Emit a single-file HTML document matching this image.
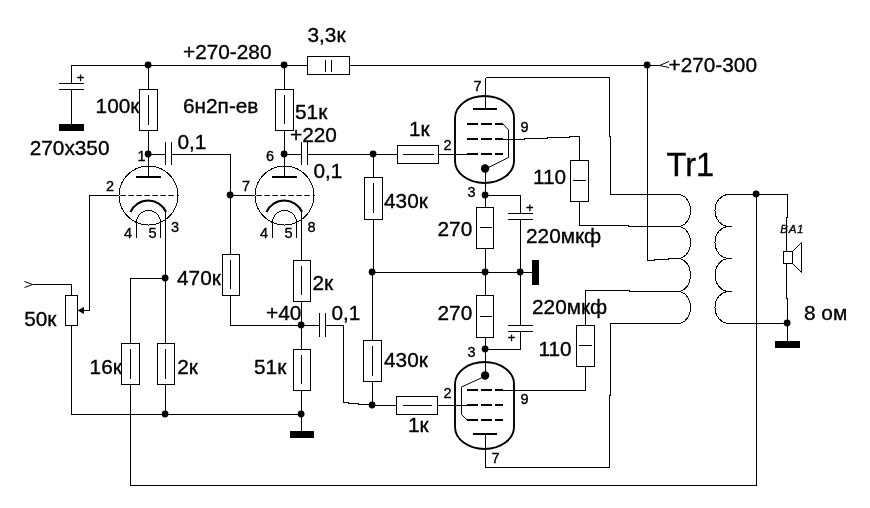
<!DOCTYPE html>
<html><head><meta charset="utf-8"><title>schematic</title>
<style>
html,body{margin:0;padding:0;background:#fff;}
body{width:870px;height:508px;overflow:hidden;}
svg{display:block;will-change:transform;}
svg text{font-family:"Liberation Sans",sans-serif;fill:#000;stroke:#000;stroke-width:0.35px;}
</style></head>
<body>
<svg width="870" height="508" viewBox="0 0 870 508">
<rect x="0" y="0" width="870" height="508" fill="#fff"/>
<g stroke="#000" stroke-width="1" fill="none" shape-rendering="crispEdges" stroke-linecap="butt">
<polyline points="71.5,83 71.5,65.5 307.5,65.5" stroke-width="1" />
<polyline points="349.5,65.5 659,65.5" stroke-width="1" />
<polyline points="59,83.5 84,83.5" stroke-width="1" />
<polyline points="59,89.5 84,89.5" stroke-width="1" />
<polyline points="71.5,89 71.5,124" stroke-width="1" />
<rect x="59" y="124" width="25" height="7" fill="#000" stroke="none"/>
<polyline points="148.5,65 148.5,89" stroke-width="1" />
<rect x="139.5" y="89.5" width="18.0" height="41.0" fill="#fff"/>
<polyline points="148.5,95 148.5,125" stroke-width="1" />
<polyline points="148.5,130 148.5,177" stroke-width="1" />
<polyline points="148,154.5 165,154.5" stroke-width="1" />
<polyline points="165.5,142 165.5,165" stroke-width="1" />
<polyline points="171.5,142 171.5,165" stroke-width="1" />
<polyline points="171,154.5 230.5,154.5 230.5,254" stroke-width="1" />
<polyline points="230,195.5 254.5,195.5" stroke-width="1" />
<circle cx="148.5" cy="195.5" r="29.5" fill="none"/>
<polyline points="136.0,177.0 161.0,177.0" stroke-width="2" />
<polyline points="120.4,195.5 173.7,195.5" stroke-width="1" stroke-dasharray="5.5 2.5" shape-rendering="auto"/>
<path d="M130.5,212.0 A19.5,19.5 0 0 1 166.0,212.0" fill="none" stroke-width="2" shape-rendering="auto"/>
<path d="M136.5,237.5 L136.5,222.5 A12,12 0 0 1 160.5,222.5 L160.5,237.5" fill="none"/>
<circle cx="284.5" cy="195.5" r="29.5" fill="none"/>
<polyline points="272.0,177.0 297.0,177.0" stroke-width="2" />
<polyline points="256.4,195.5 309.7,195.5" stroke-width="1" stroke-dasharray="5.5 2.5" shape-rendering="auto"/>
<path d="M266.5,212.0 A19.5,19.5 0 0 1 302.0,212.0" fill="none" stroke-width="2" shape-rendering="auto"/>
<path d="M272.5,237.5 L272.5,222.5 A12,12 0 0 1 296.5,222.5 L296.5,237.5" fill="none"/>
<polyline points="118.5,195.5 89.5,195.5 89.5,310.5 84,310.5" stroke-width="1" />
<polyline points="165.5,212 165.5,343.5" stroke-width="1" />
<polyline points="165.5,278.5 130.5,278.5 130.5,343.5" stroke-width="1" />
<rect x="121.5" y="343.5" width="18.0" height="41.0" fill="#fff"/>
<polyline points="130.5,349 130.5,378.5" stroke-width="1" />
<rect x="157.5" y="343.5" width="17.0" height="41.0" fill="#fff"/>
<polyline points="165.5,349 165.5,378.5" stroke-width="1" />
<polyline points="165.5,384.5 165.5,414.5" stroke-width="1" />
<polyline points="130.5,384.5 130.5,485.5 756.5,485.5 756.5,194.5" stroke-width="1" />
<polyline points="24.5,281.5 32.5,284.5 24.5,287.5" stroke-width="1" shape-rendering="auto"/>
<polyline points="32.5,284.5 71.5,284.5 71.5,295" stroke-width="1" />
<rect x="65.5" y="295.5" width="12.0" height="30.0" fill="#fff"/>
<polyline points="71.5,325.5 71.5,414.5 301.5,414.5" stroke-width="1" />
<polygon points="77.5,310.5 84,307 84,314" fill="#000" stroke="none" shape-rendering="auto"/>
<polyline points="284.5,65 284.5,89" stroke-width="1" />
<rect x="275.5" y="89.5" width="18.0" height="41.0" fill="#fff"/>
<polyline points="284.5,95 284.5,124" stroke-width="1" />
<polyline points="284.5,130 284.5,177" stroke-width="1" />
<polyline points="284,154.5 301,154.5" stroke-width="1" />
<polyline points="301.5,142 301.5,165" stroke-width="1" />
<polyline points="307.5,142 307.5,165" stroke-width="1" />
<polyline points="307,154.5 397.5,154.5" stroke-width="1" />
<rect x="307.5" y="56.5" width="42.0" height="18.0" fill="#fff"/>
<polyline points="325.5,59.5 325.5,71.5" stroke-width="1" />
<polyline points="331.5,59.5 331.5,71.5" stroke-width="1" />
<polyline points="301.5,212 301.5,260" stroke-width="1" />
<rect x="293.5" y="260.5" width="17.0" height="41.0" fill="#fff"/>
<polyline points="301.5,266 301.5,295" stroke-width="1" />
<polyline points="301.5,301 301.5,349.5" stroke-width="1" />
<rect x="293.5" y="349.5" width="17.0" height="41.0" fill="#fff"/>
<polyline points="301.5,355 301.5,384" stroke-width="1" />
<polyline points="301.5,390 301.5,431" stroke-width="1" />
<rect x="290" y="431" width="24" height="7" fill="#000" stroke="none"/>
<rect x="222.5" y="254.5" width="17.0" height="41.0" fill="#fff"/>
<polyline points="230.5,260 230.5,289" stroke-width="1" />
<polyline points="230.5,295 230.5,325.5 319,325.5" stroke-width="1" />
<polyline points="319.5,313 319.5,337" stroke-width="1" />
<polyline points="325.5,313 325.5,337" stroke-width="1" />
<polyline points="325,325.5 343.5,325.5 343.5,402.5 348,402.5 348,403.5 358,403.5 358,404.5 372,404.5" stroke-width="1" />
<polyline points="373.5,154 373.5,177" stroke-width="1" />
<rect x="364.5" y="177.5" width="18.0" height="42.0" fill="#fff"/>
<polyline points="373.5,183 373.5,213" stroke-width="1" />
<polyline points="373.5,219 373.5,272 372.5,272 372.5,340" stroke-width="1" />
<rect x="363.5" y="340.5" width="18.0" height="41.0" fill="#fff"/>
<polyline points="372.5,346 372.5,376" stroke-width="1" />
<polyline points="372.5,381 372.5,405.5" stroke-width="1" />
<polyline points="372,272.5 532,272.5" stroke-width="1" />
<rect x="532" y="260" width="7" height="24.5" fill="#000" stroke="none"/>
<rect x="397.5" y="145.5" width="41.0" height="18.0" fill="#fff"/>
<polyline points="402.5,154.5 434,154.5" stroke-width="1" />
<polyline points="438.5,154.5 467,154.5" stroke-width="1" />
<polyline points="372,405.5 396.5,405.5" stroke-width="1" />
<rect x="396.5" y="396.5" width="41.0" height="18.0" fill="#fff"/>
<polyline points="402.5,405.5 432,405.5" stroke-width="1" />
<polyline points="437.5,405.5 467,405.5" stroke-width="1" />
<path d="M455,118 A29.5,22 0 0 1 514,118 L514,161 A29.5,22 0 0 1 455,161 Z" fill="none" stroke-width="1.9" shape-rendering="auto"/>
<path d="M455,384 A29.5,22 0 0 1 514,384 L514,427 A29.5,22 0 0 1 455,427 Z" fill="none" stroke-width="1.9" shape-rendering="auto"/>
<polyline points="473,109 497,109" stroke-width="2" />
<polyline points="485.5,77.5 485.5,109" stroke-width="1" />
<polyline points="467,124 503,124" stroke-width="2" stroke-dasharray="11 3"/>
<polyline points="467,139 503,139" stroke-width="2" stroke-dasharray="11 3"/>
<polyline points="467,154 503,154" stroke-width="2" stroke-dasharray="11 3"/>
<polyline points="503,124 508.5,130 508.5,157.5 485.5,169" stroke-width="1" shape-rendering="auto"/>
<polyline points="503,139.5 524.5,139.5 524.5,138.5 547,138.5 547,137.5 569,137.5 569,136.5 579.5,136.5 579.5,160.5" stroke-width="1" />
<polyline points="485.5,169 485.5,207.5" stroke-width="1" />
<rect x="476.5" y="207.5" width="17.0" height="41.0" fill="#fff"/>
<polyline points="480,227.5 492,227.5" stroke-width="1" />
<polyline points="485.5,248 485.5,295.5" stroke-width="1" />
<rect x="476.5" y="295.5" width="17.0" height="42.0" fill="#fff"/>
<polyline points="480,316.5 492,316.5" stroke-width="1" />
<polyline points="485.5,337 485.5,376" stroke-width="1" />
<polyline points="485,195.5 520.5,195.5 520.5,213.5" stroke-width="1" />
<polyline points="508,213.5 533,213.5" stroke-width="1" />
<polyline points="508,219.5 533,219.5" stroke-width="1" />
<polyline points="520.5,219 520.5,325.5" stroke-width="1" />
<polyline points="508,325.5 533,325.5" stroke-width="1" />
<polyline points="508,331.5 533,331.5" stroke-width="1" />
<polyline points="520.5,331 520.5,349.5 485,349.5" stroke-width="1" />
<rect x="570.5" y="160.5" width="18.0" height="41.0" fill="#fff"/>
<polyline points="573,180.5 585.5,180.5" stroke-width="1" />
<polyline points="579.5,201 579.5,225.5 627,225.5 630,226.5 678,226.5" stroke-width="1" />
<polyline points="485.5,77.5 609.5,77.5 609.5,136 610.5,136 610.5,194.5 678,194.5" stroke-width="1" />
<polyline points="647.5,65 647.5,260.5 654,260.5 654,259.5 668,259.5 668,258.5 679,258.5" stroke-width="1" />
<polyline points="585.5,325.5 585.5,290.5 629.5,290.5 629.5,291.5 678,291.5" stroke-width="1" />
<rect x="576.5" y="325.5" width="18.0" height="41.0" fill="#fff"/>
<polyline points="579,345.5 591.5,345.5" stroke-width="1" />
<polyline points="585.5,366 585.5,390.5 503,390.5" stroke-width="1" />
<polyline points="467,390 503,390" stroke-width="2" stroke-dasharray="11 3"/>
<polyline points="467,405 503,405" stroke-width="2" stroke-dasharray="11 3"/>
<polyline points="467,420 503,420" stroke-width="2" stroke-dasharray="11 3"/>
<polyline points="473,433.5 497,433.5" stroke-width="2" />
<polyline points="485.5,376 461.5,387 461.5,414.5 467,420" stroke-width="1" shape-rendering="auto"/>
<polyline points="485.5,433.5 485.5,467.5 609.5,467.5 609.5,395.5 610.5,395.5 610.5,323.5 678,323.5" stroke-width="1" />
<path d="M678,194.5 A12.5,16.0 0 0 1 678,226.5" fill="none"/>
<path d="M678,226.5 A12.5,16.0 0 0 1 678,258.5" fill="none"/>
<path d="M678,258.5 A12.5,16.5 0 0 1 678,291.5" fill="none"/>
<path d="M678,291.5 A12.5,16.0 0 0 1 678,323.5" fill="none"/>
<path d="M729,194.5 A14,16.0 0 0 0 729,226.5" fill="none"/>
<path d="M729,226.5 A14,16.0 0 0 0 729,258.5" fill="none"/>
<path d="M729,258.5 A14,16.5 0 0 0 729,291.5" fill="none"/>
<path d="M729,291.5 A14,16.0 0 0 0 729,323.5" fill="none"/>
<polyline points="728,226.5 732,226.5" stroke-width="1" />
<polyline points="728,258.5 732,258.5" stroke-width="1" />
<polyline points="728,291.5 732,291.5" stroke-width="1" />
<polyline points="729,194.5 787.5,194.5 787.5,217 786.5,217 786.5,251.5" stroke-width="1" />
<rect x="783.5" y="251.5" width="9.0" height="12.0" fill="#fff"/>
<polyline points="792.5,251.5 801.5,242.5 801.5,272.5 792.5,263.5" stroke-width="1" shape-rendering="auto"/>
<polyline points="786.5,263.5 786.5,298 787.5,298 787.5,341" stroke-width="1" />
<polyline points="729,323.5 787,323.5" stroke-width="1" />
<rect x="775" y="341" width="25" height="7" fill="#000" stroke="none"/>
<polyline points="669,61.5 659.5,65.5 669,67.5" stroke-width="1" shape-rendering="auto"/>
<circle cx="148.1" cy="65.0" r="3.4" fill="#000" stroke="none" shape-rendering="auto"/>
<circle cx="284.1" cy="65.0" r="3.4" fill="#000" stroke="none" shape-rendering="auto"/>
<circle cx="148.1" cy="154.0" r="3.4" fill="#000" stroke="none" shape-rendering="auto"/>
<circle cx="284.1" cy="154.0" r="3.4" fill="#000" stroke="none" shape-rendering="auto"/>
<circle cx="230.1" cy="195.0" r="3.4" fill="#000" stroke="none" shape-rendering="auto"/>
<circle cx="373.1" cy="154.0" r="3.4" fill="#000" stroke="none" shape-rendering="auto"/>
<circle cx="165.1" cy="278.0" r="3.4" fill="#000" stroke="none" shape-rendering="auto"/>
<circle cx="165.1" cy="414.0" r="3.4" fill="#000" stroke="none" shape-rendering="auto"/>
<circle cx="301.1" cy="325.0" r="3.4" fill="#000" stroke="none" shape-rendering="auto"/>
<circle cx="301.1" cy="414.0" r="3.4" fill="#000" stroke="none" shape-rendering="auto"/>
<circle cx="372.1" cy="272.0" r="3.4" fill="#000" stroke="none" shape-rendering="auto"/>
<circle cx="372.1" cy="405.0" r="3.4" fill="#000" stroke="none" shape-rendering="auto"/>
<circle cx="485.1" cy="195.0" r="3.4" fill="#000" stroke="none" shape-rendering="auto"/>
<circle cx="485.1" cy="272.0" r="3.4" fill="#000" stroke="none" shape-rendering="auto"/>
<circle cx="520.1" cy="272.0" r="3.4" fill="#000" stroke="none" shape-rendering="auto"/>
<circle cx="485.1" cy="349.0" r="3.4" fill="#000" stroke="none" shape-rendering="auto"/>
<circle cx="647.1" cy="65.0" r="3.4" fill="#000" stroke="none" shape-rendering="auto"/>
<circle cx="756.1" cy="194.0" r="3.4" fill="#000" stroke="none" shape-rendering="auto"/>
<circle cx="787.1" cy="323.0" r="3.4" fill="#000" stroke="none" shape-rendering="auto"/>
<circle cx="485.1" cy="168.5" r="4.2" fill="#000" stroke="none" shape-rendering="auto"/>
<circle cx="485.1" cy="375.5" r="4.2" fill="#000" stroke="none" shape-rendering="auto"/>
</g>
<g>
<text x="29.7" y="155" font-size="20.8" >270x350</text>
<text x="95.6" y="113" font-size="20.8" >100к</text>
<text x="183" y="58.5" font-size="20.8" >+270-280</text>
<text x="183" y="113" font-size="20.8" >6н2п-ев</text>
<text x="307.5" y="41.5" font-size="20.8" >3,3к</text>
<text x="295" y="119" font-size="20.8" >51к</text>
<text x="290" y="142" font-size="20.8" >+220</text>
<text x="177.5" y="149" font-size="20.8" >0,1</text>
<text x="313.5" y="178" font-size="20.8" >0,1</text>
<text x="409" y="136" font-size="20.8" >1к</text>
<text x="384" y="207.5" font-size="20.8" >430к</text>
<text x="437.5" y="236" font-size="20.8" >270</text>
<text x="533" y="183.5" font-size="20.8" >110</text>
<text x="526" y="242.5" font-size="20.8" >220мкф</text>
<text x="532" y="313.5" font-size="20.8" >220мкф</text>
<text x="437.5" y="320" font-size="20.8" >270</text>
<text x="538.5" y="355.5" font-size="20.8" >110</text>
<text x="666.5" y="175.5" font-size="32.5" >Tr1</text>
<text x="668.5" y="71.7" font-size="20.8" >+270-300</text>
<text x="804" y="319.5" font-size="20.8" >8 ом</text>
<text x="24.2" y="325.5" font-size="20.8" >50к</text>
<text x="177" y="285" font-size="20.8" >470к</text>
<text x="89.6" y="373.5" font-size="20.8" >16к</text>
<text x="177.2" y="373.5" font-size="20.8" >2к</text>
<text x="312.5" y="289.5" font-size="20.8" >2к</text>
<text x="266" y="319.5" font-size="20.8" >+40</text>
<text x="331.5" y="320" font-size="20.8" >0,1</text>
<text x="254" y="373.5" font-size="20.8" >51к</text>
<text x="384" y="366.5" font-size="20.8" >430к</text>
<text x="408" y="432" font-size="20.8" >1к</text>
<text x="76.8" y="81.5" font-size="13" >+</text>
<text x="526" y="212" font-size="13" >+</text>
<text x="507.8" y="342" font-size="13" >+</text>
<text x="137.5" y="160.7" font-size="14.5" >1</text>
<text x="106" y="191" font-size="14.5" >2</text>
<text x="124" y="237.5" font-size="14.5" >4</text>
<text x="148.5" y="237.5" font-size="14.5" >5</text>
<text x="171" y="232" font-size="14.5" >3</text>
<text x="242" y="191" font-size="14.5" >7</text>
<text x="266" y="161" font-size="14.5" >6</text>
<text x="260" y="237.5" font-size="14.5" >4</text>
<text x="284.5" y="237.5" font-size="14.5" >5</text>
<text x="307.5" y="232" font-size="14.5" >8</text>
<text x="443.5" y="150" font-size="14.5" >2</text>
<text x="467.5" y="197" font-size="14.5" >3</text>
<text x="473.5" y="91" font-size="14.5" >7</text>
<text x="520.5" y="132" font-size="14.5" >9</text>
<text x="467.5" y="357" font-size="14.5" >3</text>
<text x="443.5" y="398" font-size="14.5" >2</text>
<text x="520.5" y="404" font-size="14.5" >9</text>
<text x="491.5" y="462.5" font-size="14.5" >7</text>
<text x="780.3" y="233" font-size="11.5" font-style="italic" letter-spacing="0.7" stroke="#000" stroke-width="0.25">BA1</text>
</g>
</svg>
</body></html>
